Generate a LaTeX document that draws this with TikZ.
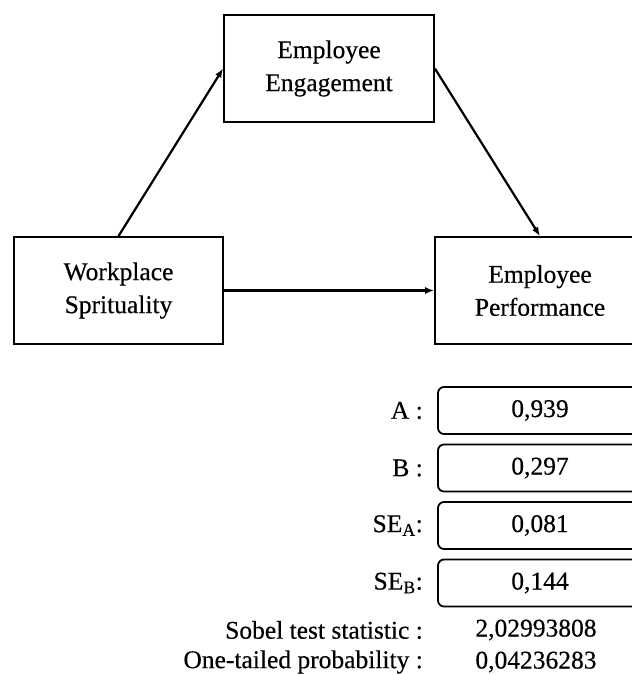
\documentclass[tikz,border=0pt]{standalone}
\usepackage{fontspec}
\setmainfont{Liberation Serif}[FakeBold=0.4]
\usetikzlibrary{arrows.meta}
\begin{document}
\begin{tikzpicture}[x=1pt,y=-1pt,
  every node/.style={font=\fontsize{25.5}{33}\selectfont, inner sep=0pt},
  varbox/.style={draw, line width=1.8pt, minimum width=210pt, minimum height=107pt, align=center},
  valbox/.style={draw, line width=1.8pt, rounded corners=6pt, minimum width=204pt, minimum height=47pt},
  lab/.style={anchor=east},
  conn/.style={line width=2.2pt, -{Latex[length=9pt,width=7pt]}}]
\useasboundingbox (0,0) rectangle (632,675);
\node[varbox] (eng) at (329,68.5) {Employee\\Engagement};
\node[varbox, minimum width=209pt] (wps) at (118.5,290.5) {Workplace\\Sprituality};
\node[varbox] (perf) at (540,290.5) {Employee\\Performance};
\draw[conn] (wps.north) -- (eng.west);
\draw[conn] (eng.east) -- (perf.north);
\draw[conn] (wps.east) -- (perf.west);

\node[valbox] (va) at (540,410.5) {0,939};
\node[valbox] (vb) at (540,468) {0,297};
\node[valbox] (vsa) at (540,525.5) {0,081};
\node[valbox] (vsb) at (540,583) {0,144};
\node[lab] (la) at (423,410.5) {A :};
\node[lab] (lb) at (423,468) {B :};
\node[lab] (lsa) at (423,525.5) {SE\textsubscript{A}:};
\node[lab] (lsb) at (423,583) {SE\textsubscript{B}:};
\node[lab] (ls) at (423,630) {Sobel test statistic :};
\node[lab] (lp) at (423,662) {One-tailed probability :};
\node (vs) at (536,630) {2,02993808};
\node (vp) at (536,662) {0,04236283};
\end{tikzpicture}
\end{document}
